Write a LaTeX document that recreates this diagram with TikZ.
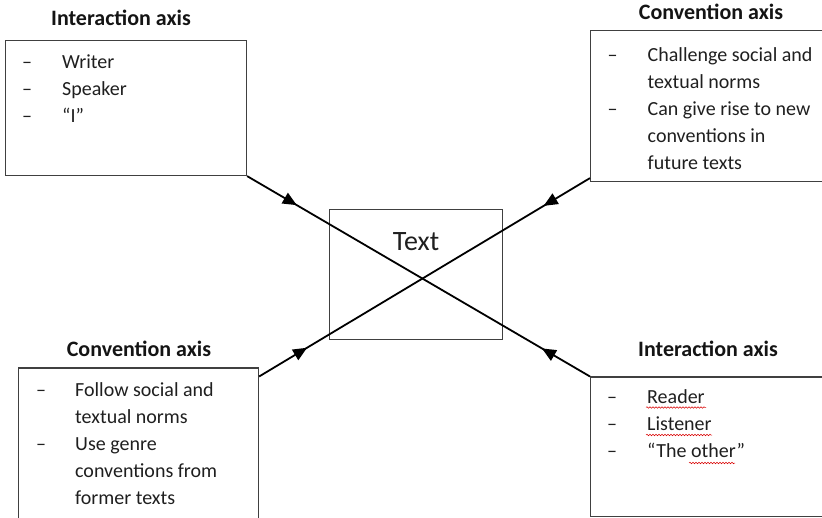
\documentclass[tikz,border=0pt]{standalone}
\usepackage{fontspec}
\setmainfont{Carlito}
\usetikzlibrary{positioning,arrows.meta,decorations.markings,decorations.pathmorphing}

\tikzset{
  axisbox/.style={draw=black!75, line width=1.1pt, anchor=north west, inner sep=0pt},
  axistitle/.style={font=\fontsize{22}{26}\selectfont\bfseries, text=black!92, anchor=base, inner sep=0pt},
  axislist/.style={font=\fontsize{20}{27}\selectfont, text=black!88, anchor=base west, inner sep=0pt},
  axisline/.style={line width=1.8pt, postaction={decorate},
    decoration={markings,
      mark=at position 0.145 with {\arrow{Triangle[length=14pt,width=12pt]}},
      mark=at position 0.86 with {\arrowreversed{Triangle[length=14pt,width=12pt]}}}},
  spellmark/.style={red!85!black, line width=0.5pt, decorate,
    decoration={snake, segment length=3pt, amplitude=0.8pt}},
}

\begin{document}
\begin{tikzpicture}[x=1pt,y=-1pt]
  \useasboundingbox (0,0) rectangle (822,518);

  % boxes
  \node[axisbox, minimum width=241pt, minimum height=135pt] (iw) at (5,40) {};
  \node[axisbox, minimum width=231.5pt, minimum height=151pt] (cr) at (590,30) {};
  \node[axisbox, minimum width=240pt, minimum height=160pt] (cl) at (18,367.5) {};
  \node[axisbox, minimum width=231.5pt, minimum height=139pt] (ir) at (590,376.5) {};
  \node[axisbox, minimum width=173pt, minimum height=130pt] (txt) at (329,209) {};
  \node[font=\fontsize{28}{30}\selectfont, text=black!88, anchor=base, inner sep=0pt] (txtlabel) at ([yshift=-41.5pt]txt.north) {Text};

  % titles
  \node[axistitle] (iwtitle) at (121,26) {Interaction axis};
  \node[axistitle] (crtitle) at (711,20) {Convention axis};
  \node[axistitle] (cltitle) at (139,356.5) {Convention axis};
  \node[axistitle] (irtitle) at (708,356.5) {Interaction axis};

  % lists
  \node[axislist] (iwlist) at ([xshift=17pt,yshift=-28.5pt]iw.north west)
    {\begin{tabular}[t]{@{}p{40pt}@{}l@{}}
      – & Writer\\
      – & Speaker\\
      – & “I”
    \end{tabular}};
  \node[axislist] (crlist) at ([xshift=17.5pt,yshift=-32pt]cr.north west)
    {\begin{tabular}[t]{@{}p{40pt}@{}l@{}}
      – & Challenge social and\\
        & textual norms\\
      – & Can give rise to new\\
        & conventions in\\
        & future texts
    \end{tabular}};
  \node[axislist] (cllist) at ([xshift=18pt,yshift=-29pt]cl.north west)
    {\begin{tabular}[t]{@{}p{39pt}@{}l@{}}
      – & Follow social and\\
        & textual norms\\
      – & Use genre\\
        & conventions from\\
        & former texts
    \end{tabular}};
  \node[axislist] (irlist) at ([xshift=17pt,yshift=-27.5pt]ir.north west)
    {\begin{tabular}[t]{@{}p{40pt}@{}l@{}}
      – & Reader\\
      – & Listener\\
      – & “The other”
    \end{tabular}};

  % spell check marks
  \draw[spellmark] (646,407.5) -- (706,407.5);
  \draw[spellmark] (646,435) -- (712,435);
  \draw[spellmark] (689,463) -- (735,463);

  % axes
  \draw[axisline] (iw.south east) -- (ir.north west);
  \draw[axisline] ([yshift=-9pt]cl.north east) -- ([yshift=4pt]cr.south west);
\end{tikzpicture}
\end{document}
